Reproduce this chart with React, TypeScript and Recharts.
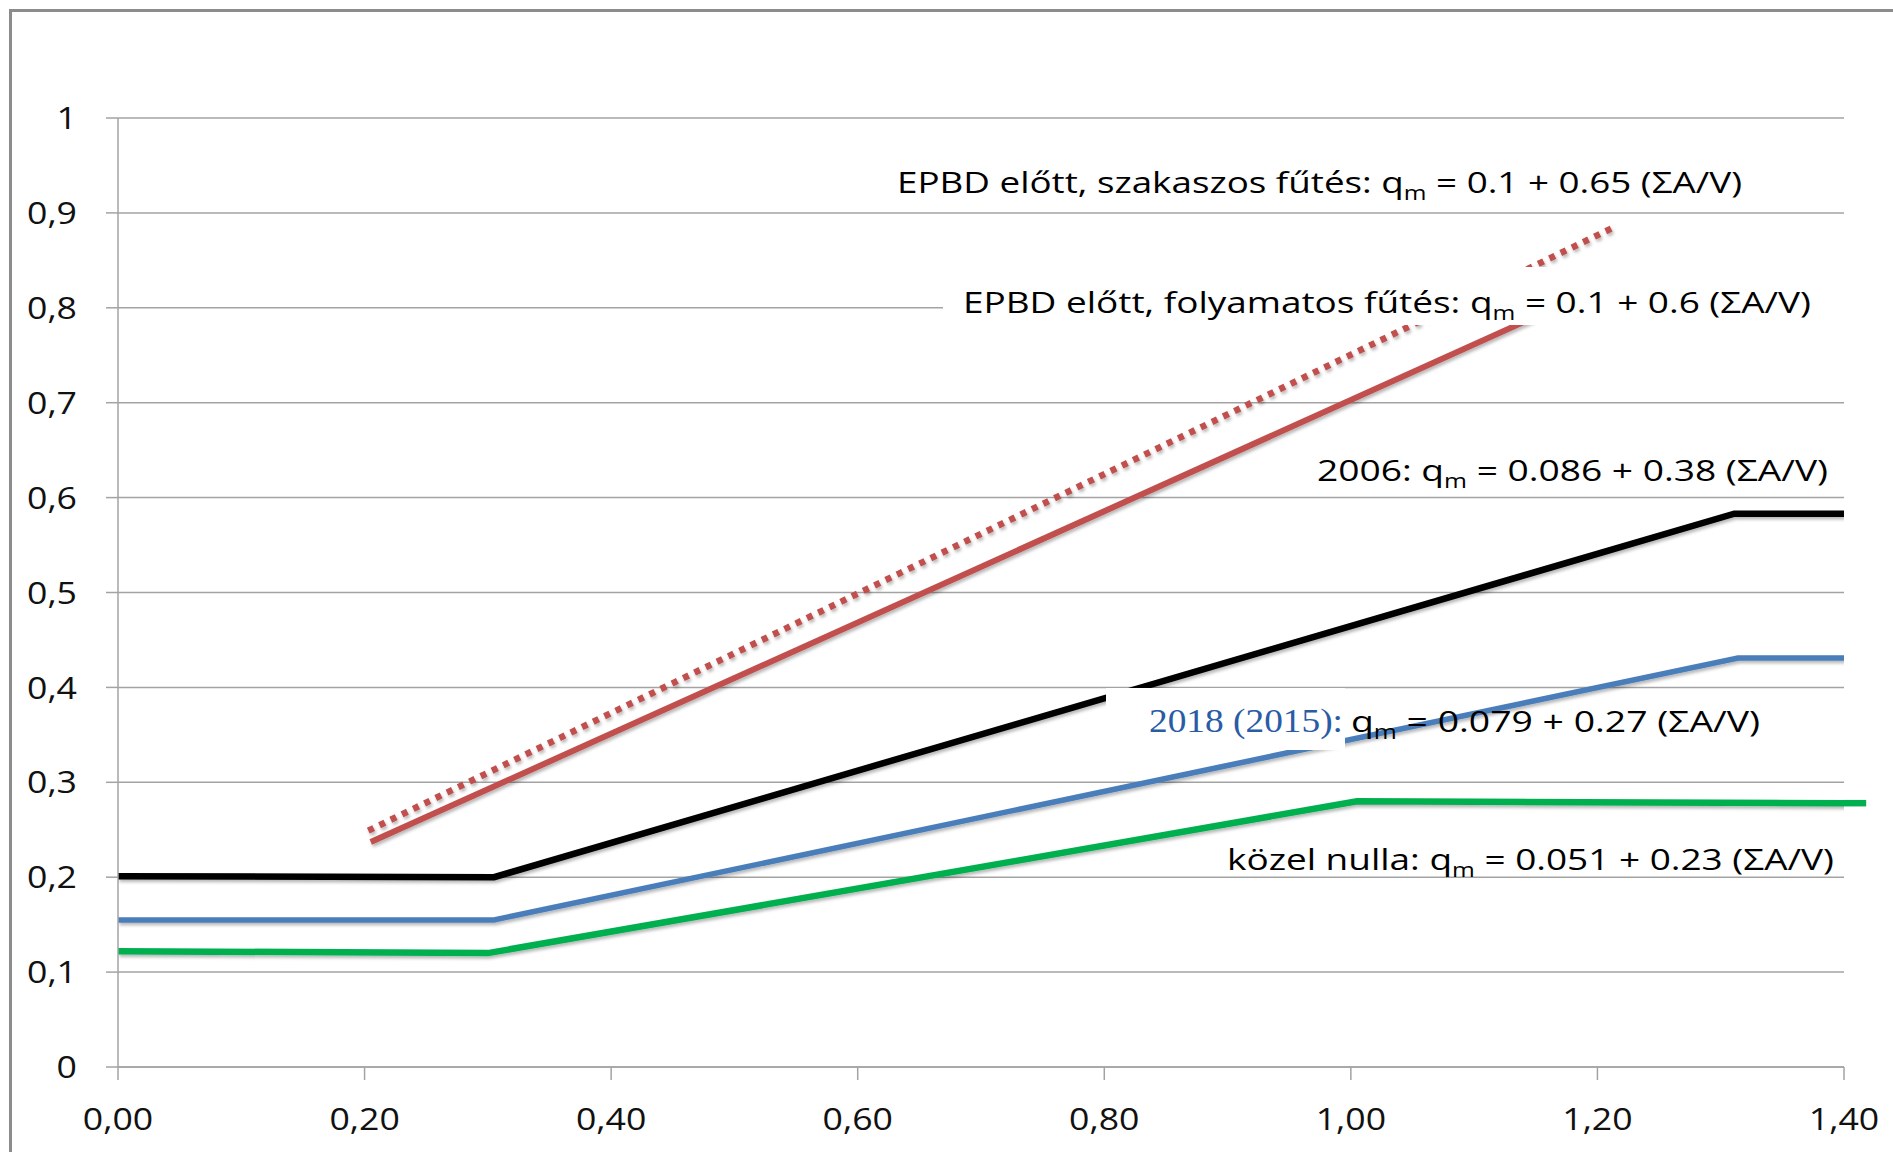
import React from 'react';
import { LineChart, Line, XAxis, YAxis, CartesianGrid, ReferenceLine } from 'recharts';

// axis ticks and their (Hungarian, comma-decimal) labels
const xTicks = [0, 0.2, 0.4, 0.6, 0.8, 1.0, 1.2, 1.4];
const xTickLabels = ['0,00', '0,20', '0,40', '0,60', '0,80', '1,00', '1,20', '1,40'];
const yTicks = [0, 0.1, 0.2, 0.3, 0.4, 0.5, 0.6, 0.7, 0.8, 0.9, 1];
const yTickLabels = ['0', '0,1', '0,2', '0,3', '0,4', '0,5', '0,6', '0,7', '0,8', '0,9', '1'];

// series (x = ΣA/V, y = q_m)
const szakaszosX = [0.203, 1.212];
const szakaszosY = [0.249, 0.884];
const folyamatosX = [0.205, 1.2];
const folyamatosY = [0.237, 0.82];
const ev2006X = [0, 0.305, 1.311, 1.4];
const ev2006Y = [0.201, 0.2, 0.583, 0.583];
const ev2018X = [0, 0.305, 1.314, 1.4];
const ev2018Y = [0.155, 0.155, 0.431, 0.431];
const nullaX = [0, 0.3, 1.005, 1.4, 1.418];
const nullaY = [0.122, 0.12, 0.28, 0.278, 0.278];

const toPoints = (xs: number[], ys: number[]) => xs.map((x, i) => ({ x, y: ys[i] }));

const FONT = '"Open Sans", sans-serif';
const SHADOW = 'url(#lineShadow)';

const labelFor = (ticks: number[], labels: string[], v: number) => {
  const i = ticks.findIndex((t) => Math.abs(t - v) < 1e-9);
  return i >= 0 ? labels[i] : String(v);
};

const YTick = ({ x, y, payload }: any) => (
  <g transform={`translate(${x},${y})`}>
    <text transform="scale(1.15,1)" textAnchor="end" dy="0.36em" fontFamily={FONT} fontSize={31} fill="#111">
      {labelFor(yTicks, yTickLabels, payload.value)}
    </text>
  </g>
);

const XTick = ({ x, y, payload }: any) => (
  <g transform={`translate(${x},${y})`}>
    <text transform="scale(1.15,1)" textAnchor="middle" dy="0.71em" fontFamily={FONT} fontSize={31} fill="#111">
      {labelFor(xTicks, xTickLabels, payload.value)}
    </text>
  </g>
);

const Formula = ({ x, y, len, pre, post }: { x: number; y: number; len: number; pre: string; post: string }) => (
  <text x={x} y={y} textLength={len} lengthAdjust="spacingAndGlyphs" fontFamily={FONT} fontSize={30} fill="#000">
    {pre}q
    <tspan fontSize={20} dy={7}>m</tspan>
    <tspan dy={-7}>{post}</tspan>
  </text>
);

export default function App() {
  const nulla = toPoints(nullaX, nullaY);
  const n = nulla.length;
  return (
    <div style={{ position: 'absolute', left: 0, top: 0, width: 1893, height: 1152, background: '#fff' }}>
      <svg width={0} height={0} style={{ position: 'absolute' }}>
        <defs>
          <filter id="lineShadow" x="-10%" y="-10%" width="120%" height="130%">
            <feDropShadow dx="1.5" dy="2.5" stdDeviation="1.8" floodColor="#000" floodOpacity="0.28" />
          </filter>
        </defs>
      </svg>
      <div
        style={{
          position: 'absolute',
          left: 9,
          top: 9,
          width: 1900,
          height: 1160,
          borderLeft: '3px solid #8c8c8c',
          borderTop: '3px solid #8c8c8c',
        }}
      />
      <LineChart width={1893} height={1152} margin={{ top: 118, right: 49, bottom: 0, left: 0 }}>
        <CartesianGrid vertical={false} stroke="#a3a3a3" strokeWidth={1.5} />
        <XAxis
          type="number"
          dataKey="x"
          domain={[0, 1.4]}
          allowDataOverflow
          ticks={xTicks}
          height={85}
          tickSize={13}
          tickMargin={28}
          stroke="#a3a3a3"
          strokeWidth={1.5}
          tick={<XTick />}
        />
        <YAxis
          type="number"
          dataKey="y"
          domain={[0, 1]}
          ticks={yTicks}
          width={118}
          tickSize={12}
          tickMargin={29}
          stroke="#a3a3a3"
          strokeWidth={1.5}
          tick={<YTick />}
        />
        <Line data={toPoints(ev2006X, ev2006Y)} dataKey="y" stroke="#000" strokeWidth={6.5} filter={SHADOW} dot={false} isAnimationActive={false} />
        <Line data={toPoints(ev2018X, ev2018Y)} dataKey="y" stroke="#4a7ebb" strokeWidth={5.5} filter={SHADOW} dot={false} isAnimationActive={false} />
        <Line data={nulla} dataKey="y" stroke="#00b050" strokeWidth={6.5} filter={SHADOW} dot={false} isAnimationActive={false} />
        <ReferenceLine
          segment={[nulla[n - 2], nulla[n - 1]]}
          stroke="#00b050"
          strokeWidth={6.5}
          ifOverflow="visible"
        />
        <Line data={toPoints(folyamatosX, folyamatosY)} dataKey="y" stroke="#c0504d" strokeWidth={6} filter={SHADOW} dot={false} isAnimationActive={false} />
        <Line
          data={toPoints(szakaszosX, szakaszosY)}
          dataKey="y"
          stroke="#c0504d"
          strokeWidth={6.5}
          strokeDasharray="6 6.5"
          filter={SHADOW}
          dot={false}
          isAnimationActive={false}
        />
      </LineChart>
      <svg width={1893} height={1152} style={{ position: 'absolute', left: 0, top: 0, pointerEvents: 'none' }}>
        <rect x={943} y={267} width={910} height={58} fill="#fff" />
        <rect x={1106} y={688} width={239} height={62} fill="#fff" />
        <Formula x={897} y={193} len={845} pre="EPBD előtt, szakaszos fűtés: " post=" = 0.1 + 0.65 (ΣA/V)" />
        <Formula x={963} y={313} len={848} pre="EPBD előtt, folyamatos fűtés: " post=" = 0.1 + 0.6 (ΣA/V)" />
        <Formula x={1317} y={481} len={511} pre="2006: " post=" = 0.086 + 0.38 (ΣA/V)" />
        <text x={1149} y={732} textLength={194} lengthAdjust="spacingAndGlyphs" fontFamily='"Liberation Serif", serif' fontSize={33} fill="#2a5ba5">
          2018 (2015):
        </text>
        <Formula x={1351} y={732} len={409} pre="" post=" = 0.079 + 0.27 (ΣA/V)" />
        <Formula x={1227} y={870} len={607} pre="közel nulla: " post=" = 0.051 + 0.23 (ΣA/V)" />
      </svg>
    </div>
  );
}
